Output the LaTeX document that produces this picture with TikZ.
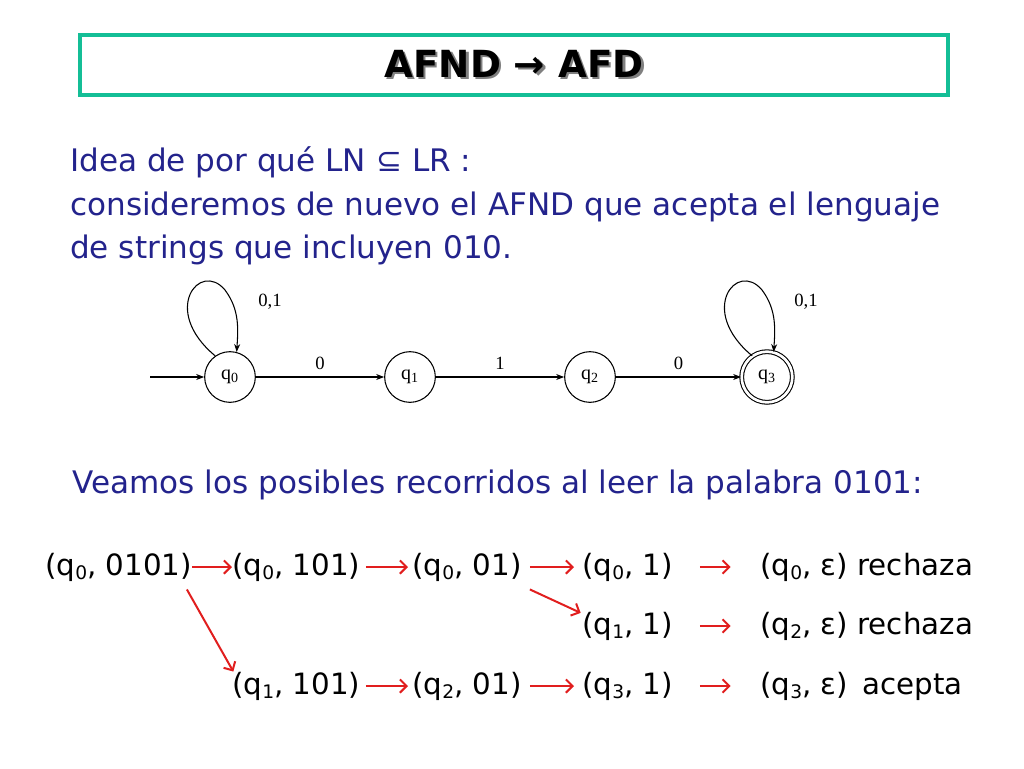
\documentclass[tikz,border=0pt]{standalone}
\usepackage{fontspec}
\setmainfont{DejaVu Sans}
\newfontfamily\timesf{Liberation Serif}
\usetikzlibrary{arrows.meta}
\definecolor{navy}{RGB}{35,35,140}
\definecolor{teal}{RGB}{20,190,150}
\definecolor{arr}{RGB}{225,30,30}
\newcommand{\sbs}[1]{\raisebox{-3pt}{\fontsize{14}{14}\selectfont #1}}
\tikzset{
 st/.style={circle,draw,thick,minimum size=38pt,inner sep=0pt,font=\timesf\fontsize{15}{15}\selectfont},
 lb/.style={font=\timesf\fontsize{14}{14}\selectfont},
 tr/.style={-{Stealth[length=6pt]},thick},
 cf/.style={anchor=west,inner sep=0pt,font=\fontsize{22}{22}\selectfont},
 ra/.style={-{Straight Barb[length=5pt]},arr,line width=1.5pt},
 txt/.style={anchor=west,align=left,inner sep=0pt,text=navy,font=\fontsize{23.3}{32.5}\selectfont}
}
\begin{document}
\begin{tikzpicture}[x=0.75pt,y=-0.75pt]
\useasboundingbox (0,0) rectangle (1024,768);
\node[draw=teal,line width=3pt,minimum width=651pt,minimum height=45pt,fill=white] (title) at (514,65) {};
\node[font=\bfseries\fontsize{28}{28}\selectfont] (tt) at (514,65) {\rlap{\kern1.8pt\raisebox{-1.8pt}{\textcolor{gray}{AFND → AFD}}}AFND → AFD};
\node[txt] (intro) at (70,206) {Idea de por qué LN ⊆ LR :\\consideremos de nuevo el AFND que acepta el lenguaje\\de strings que incluyen 010.};
% automaton
\node[st] (q0) at (230,377) {q\textsubscript{0}};
\node[st] (q1) at (410,377) {q\textsubscript{1}};
\node[st] (q2) at (590,377) {q\textsubscript{2}};
\node[st,double,double distance=2pt] (q3) at (767,377) {q\textsubscript{3}};
\coordinate (init) at (150,377);
\draw[tr] (init) -- (q0);
\draw[tr] (q0) -- node[lb,above=2pt]{0} (q1);
\draw[tr] (q1) -- node[lb,above=2pt]{1} (q2);
\draw[tr] (q2) -- node[lb,above=2pt]{0} (q3);
\draw[tr] (q0.125) .. controls (160,310) and (200,260) .. (225,290) .. controls (240,310) and (238,330) .. (q0.75);
\draw[tr] (q3.125) .. controls (697,310) and (737,260) .. (762,290) .. controls (777,310) and (775,330) .. (q3.75);
\node[lb] at (270,302) {0,1};
\node[lb] at (806,302) {0,1};
\node[txt] (veamos) at (72,485) {Veamos los posibles recorridos al leer la palabra 0101:};
% configurations
\node[cf] (a1) at (45,567) {(q\sbs{0}, 0101)};
\node[cf] (a2) at (232,567) {(q\sbs{0}, 101)};
\node[cf] (a3) at (412,567) {(q\sbs{0}, 01)};
\node[cf] (a4) at (582,567) {(q\sbs{0}, 1)};
\node[cf] (a5) at (760,567) {(q\sbs{0}, ε) rechaza};
\node[cf] (b4) at (582,626) {(q\sbs{1}, 1)};
\node[cf] (b5) at (760,626) {(q\sbs{2}, ε) rechaza};
\node[cf] (c2) at (232,686) {(q\sbs{1}, 101)};
\node[cf] (c3) at (412,686) {(q\sbs{2}, 01)};
\node[cf] (c4) at (582,686) {(q\sbs{3}, 1)};
\node[cf] (c5) at (760,686) {(q\sbs{3}, ε)\, acepta};
\draw[ra] (a1.east) -- (a2.west);
\draw[ra] ([xshift=4pt]a2.east) -- ([xshift=-3pt]a3.west);
\draw[ra] ([xshift=6pt]a3.east) -- ([xshift=-6pt]a4.west);
\draw[ra] ([xshift=20pt]a4.east) -- ([xshift=-22pt]a5.west);
\draw[ra] ([xshift=20pt]b4.east) -- ([xshift=-22pt]b5.west);
\draw[ra] ([xshift=4pt]c2.east) -- ([xshift=-3pt]c3.west);
\draw[ra] ([xshift=6pt]c3.east) -- ([xshift=-6pt]c4.west);
\draw[ra] ([xshift=20pt]c4.east) -- ([xshift=-22pt]c5.west);
\draw[ra] ([xshift=-4pt,yshift=-6pt]a1.south east) -- ([xshift=1pt]c2.north west);
\draw[ra] ([xshift=6pt,yshift=-6pt]a3.south east) -- ([xshift=-1pt,yshift=-1pt]b4.north west);
\end{tikzpicture}
\end{document}
